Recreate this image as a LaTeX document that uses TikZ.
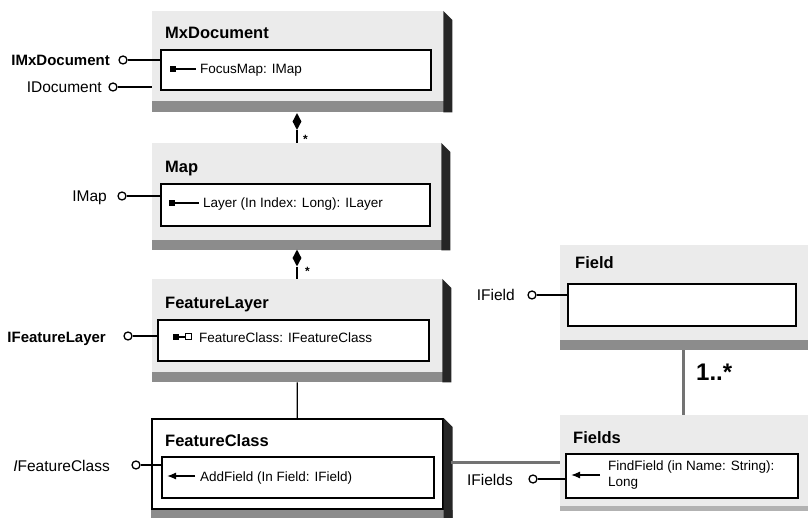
\documentclass[tikz,border=0pt]{standalone}
\usepackage{fontspec}
\setmainfont{Liberation Sans}
\usetikzlibrary{shapes.geometric,arrows.meta}
\newcommand\ClassDeco[3]{% node, band depth, side width
  \fill[bandbg] (#1.south west) rectangle ([shift={(#3,#2)}]#1.south east);
  \fill[sidebg] (#1.north east) -- ([shift={(#3,#3)}]#1.north east) -- ([shift={(#3,#2)}]#1.south east) -- ([shift={(0,#2)}]#1.south east) -- cycle;
}
\begin{document}
\begin{tikzpicture}[x=1pt,y=-1pt,
  lightbg/.style={fill=black!8, draw=none, inner sep=0pt, anchor=north west},
  bandbg/.style={fill=black!45},
  sidebg/.style={fill=black!85},
  innerbox/.style={draw=black, line width=1.6pt, fill=white, inner sep=0pt, anchor=north west},
  lolli/.style={circle, draw=black, line width=1.3pt, fill=white, minimum size=8pt, inner sep=0pt},
  ifline/.style={line width=1.3pt},
  assoc/.style={line width=3pt, draw=black!55},
  iflabel/.style={font=\fontsize{15.5}{18}\selectfont, anchor=base east, inner sep=0pt},
  title/.style={font=\fontsize{16.5}{19}\selectfont\bfseries, anchor=base west, inner sep=0pt},
  member/.style={font=\fontsize{13.5}{16}\selectfont, anchor=base west, inner sep=0pt},
  sqfill/.style={rectangle, fill=black, minimum size=6pt, inner sep=0pt},
  sqopen/.style={rectangle, draw=black, line width=1pt, fill=white, minimum size=6pt, inner sep=0pt},
  comp/.style={diamond, fill=black, minimum width=9pt, minimum height=17pt, inner sep=0pt},
  mult/.style={font=\fontsize{12}{14}\selectfont\bfseries, anchor=west, inner sep=0pt},
  marrow/.style={line width=1.3pt, -{Latex[length=9pt,width=7pt]}}
]
\useasboundingbox (0,0) rectangle (808,518);
\fill[white] (0,0) rectangle (808,518);

% ---------------- MxDocument
\node[lightbg, minimum width=291pt, minimum height=90pt] (mxd) at (152,11) {};
\ClassDeco{mxd}{11}{9}
\node[innerbox, minimum width=270pt, minimum height=40pt] (mxdI) at (160,49) {};
\node[title] (mxdT) at (165,39) {MxDocument};
\node[iflabel, font=\fontsize{15}{18}\selectfont\bfseries] (lIMx) at (110,66) {IMxDocument};
\node[lolli] (cIMx) at (123,60) {};
\draw[ifline] (cIMx.east) -- (cIMx.east -| mxdI.west);
\node[iflabel] (lIDoc) at (102,93) {IDocument};
\node[lolli] (cIDoc) at (113,87) {};
\draw[ifline] (cIDoc.east) -- (cIDoc.east -| mxd.west);
\node[sqfill] (mxdS) at (173,69) {};
\node[member] (mxdM) at (200,74) {FocusMap: IMap};
\draw[ifline] (mxdS.east) -- ([xshift=-4pt]mxdS.east -| mxdM.west);

% composition MxDocument -> Map
\node[comp] (d1) at (297,121.5) {};
\node[mult] (s1) at (303,139) {*};

% ---------------- Map
\node[lightbg, minimum width=289pt, minimum height=97pt] (map) at (152,143) {};
\ClassDeco{map}{10}{9}
\node[innerbox, minimum width=269pt, minimum height=42pt] (mapI) at (160,183) {};
\node[title] (mapT) at (165,173) {Map};
\node[iflabel] (lIMap) at (107,202) {IMap};
\node[lolli] (cIMap) at (122,196) {};
\draw[ifline] (cIMap.east) -- (cIMap.east -| mapI.west);
\node[sqfill] (mapS) at (172,203) {};
\node[member] (mapM) at (203,208) {Layer (In Index: Long): ILayer};
\draw[ifline] (mapS.east) -- ([xshift=-4pt]mapS.east -| mapM.west);
\draw[ifline] (d1.south) -- (d1.south |- map.north);

% composition Map -> FeatureLayer
\node[comp] (d2) at (297,258) {};
\node[mult] (s2) at (305,271) {*};

% ---------------- FeatureLayer
\node[lightbg, minimum width=290pt, minimum height=93pt] (fl) at (152,279) {};
\ClassDeco{fl}{10}{9}
\node[innerbox, minimum width=271pt, minimum height=41pt] (flI) at (157,319) {};
\node[title] (flT) at (165,309) {FeatureLayer};
\node[iflabel, font=\fontsize{15}{18}\selectfont\bfseries] (lIFL) at (106,342) {IFeatureLayer};
\node[lolli] (cIFL) at (128,336) {};
\draw[ifline] (cIFL.east) -- (cIFL.east -| flI.west);
\node[sqfill] (flS) at (176,337) {};
\node[sqopen] (flO) at (188,337) {};
\draw[ifline] (flS.east) -- (flO.west);
\node[member] (flM) at (199,342) {FeatureClass: IFeatureClass};
\draw[ifline] (d2.south) -- (d2.south |- fl.north);

% ---------------- FeatureClass
\node[draw=black, line width=1.6pt, fill=white, inner sep=0pt, anchor=north west,
      minimum width=291pt, minimum height=90pt] (fc) at (151,418) {};
\ClassDeco{fc}{10}{9}
\node[innerbox, minimum width=272pt, minimum height=41pt] (fcI) at (161,456) {};
\node[title] (fcT) at (165,446) {FeatureClass};
\node[iflabel] (lIFC) at (110,471) {\textit{I}FeatureClass};
\node[lolli] (cIFC) at (136,465) {};
\draw[ifline] (cIFC.east) -- (cIFC.east -| fcI.west);
\node[member] (fcM) at (200,481) {AddField (In Field: IField)};
\coordinate (fcA1) at (195,476);
\coordinate (fcA2) at (167,476);
\draw[marrow] (fcA1) -- (fcA2);
\draw[ifline] ([yshift=-10pt]fl.south) -- (fc.north);

% ---------------- Field
\node[lightbg, minimum width=248pt, minimum height=95pt] (fd) at (560,245) {};
\fill[bandbg] (fd.south west) rectangle ([shift={(0,10)}]fd.south east);
\node[innerbox, minimum width=228pt, minimum height=42pt] (fdI) at (567,283) {};
\node[title] (fdT) at (575,269) {Field};
\node[iflabel] (lIFd) at (515,301) {IField};
\node[lolli] (cIFd) at (532,295) {};
\draw[ifline] (cIFd.east) -- (cIFd.east -| fdI.west);

% ---------------- Fields
\node[lightbg, minimum width=248pt, minimum height=91pt] (fs) at (560,415) {};
\fill[black!30] (fs.south west) rectangle ([shift={(0,5)}]fs.south east);
\node[innerbox, minimum width=232pt, minimum height=44pt] (fsI) at (565,453) {};
\node[title] (fsT) at (573,443) {Fields};
\node[iflabel] (lIFs) at (513,485) {IFields};
\node[lolli] (cIFs) at (533,479) {};
\draw[ifline] (cIFs.east) -- (cIFs.east -| fsI.west);
\node[member, align=left, anchor=north west] (fsM) at (608,461) {FindField (in Name: String):\\Long};
\coordinate (fsA1) at (600,475);
\coordinate (fsA2) at (571,475);
\draw[marrow] (fsA1) -- (fsA2);

% associations
\coordinate (fdB) at (683,350);
\draw[assoc] (fdB) -- (fdB |- fs.north);
\node[font=\fontsize{24}{28}\selectfont\bfseries, anchor=west, inner sep=0pt] (m1) at (696,372) {1..*};
\coordinate (fcR) at (451,462);
\draw[assoc] (fcR) -- (fcR -| fs.west);
\end{tikzpicture}
\end{document}
